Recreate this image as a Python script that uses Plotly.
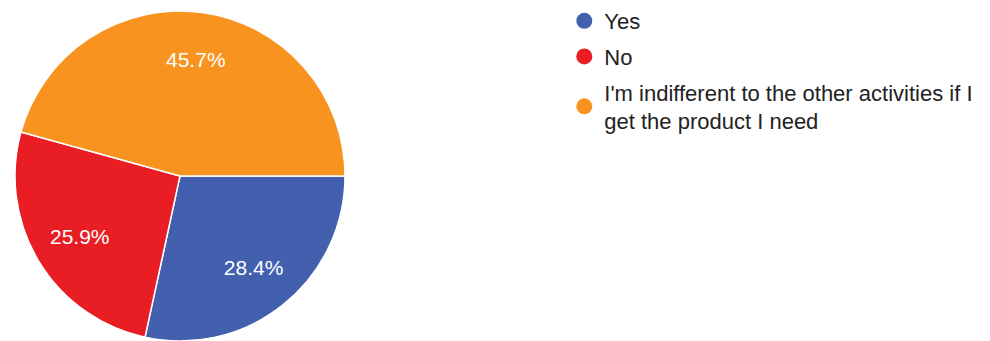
import plotly.graph_objects as go

labels = ["Yes", "No", "I'm indifferent to the other activities if I<br>get the product I need"]
values = [28.4, 25.9, 45.7]
colors = ["#4360AF", "#E91E25", "#F7931E"]

dom = dict(x=[15/990, 345/990], y=[0, 0.968])

fig = go.Figure()
fig.add_trace(go.Pie(
    labels=labels, values=values, sort=False, direction="clockwise", rotation=90,
    marker=dict(colors=colors, line=dict(color="white", width=1.5)),
    textinfo="none", showlegend=False, hoverinfo="label+percent",
    domain=dom,
))
# transparent ring carrying the percentage labels further out
fig.add_trace(go.Pie(
    labels=labels, values=values, sort=False, direction="clockwise", rotation=90,
    hole=0.42,
    marker=dict(colors=["rgba(0,0,0,0)"] * 3, line=dict(width=0)),
    texttemplate="%{percent:.1%}", textposition="inside",
    insidetextorientation="horizontal",
    textfont=dict(family="Liberation Sans, Arial", size=21, color="white"),
    showlegend=False, hoverinfo="skip",
    domain=dom,
))
for i, (lab, col) in enumerate(zip(labels, colors)):
    fig.add_trace(go.Scatter(
        x=[None], y=[None], mode="markers", name=lab, legendgroup=str(i),
        marker=dict(color=col, size=16, symbol="circle"),
    ))
fig.update_layout(
    width=990, height=341, margin=dict(l=0, r=0, t=0, b=0),
    paper_bgcolor="white", plot_bgcolor="white",
    xaxis=dict(visible=False), yaxis=dict(visible=False),
    legend=dict(x=0.57, y=1.0, xanchor="left", yanchor="top",
                font=dict(family="Liberation Sans, Arial", size=22, color="#222222"),
                tracegroupgap=4, traceorder="grouped"),
)
fig.write_html("out.html")
